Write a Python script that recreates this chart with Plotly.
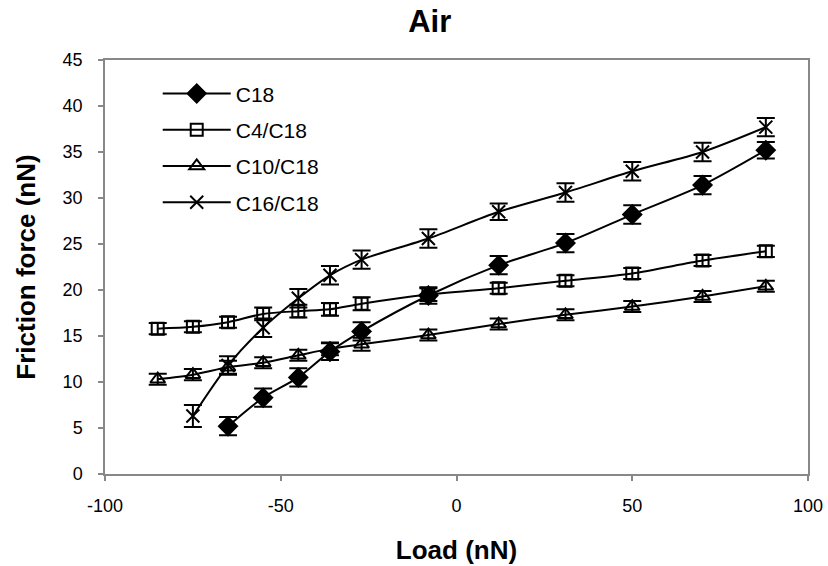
import plotly.graph_objects as go

# Data
load_c18 = [-65, -55, -45, -36, -27, -8, 12, 31, 50, 70, 88]
fric_c18 = [5.2, 8.3, 10.5, 13.3, 15.5, 19.4, 22.7, 25.1, 28.2, 31.4, 35.2]
err_c18 = [1.0, 1.0, 1.0, 0.9, 1.0, 0.9, 1.0, 1.0, 1.0, 1.0, 0.9]

load_c4 = [-85, -75, -65, -55, -45, -36, -27, -8, 12, 31, 50, 70, 88]
fric_c4 = [15.8, 16.0, 16.5, 17.4, 17.7, 17.9, 18.5, 19.5, 20.2, 21.0, 21.8, 23.2, 24.2]
err_c4 = [0.6, 0.6, 0.6, 0.7, 0.7, 0.7, 0.7, 0.7, 0.6, 0.6, 0.6, 0.6, 0.6]

load_c10 = [-85, -75, -65, -55, -45, -36, -27, -8, 12, 31, 50, 70, 88]
fric_c10 = [10.3, 10.8, 11.6, 12.1, 12.9, 13.6, 14.1, 15.1, 16.3, 17.3, 18.2, 19.3, 20.4]
err_c10 = [0.6, 0.6, 0.7, 0.6, 0.6, 0.7, 0.7, 0.6, 0.6, 0.6, 0.6, 0.6, 0.6]

load_c16 = [-75, -65, -55, -45, -36, -27, -8, 12, 31, 50, 70, 88]
fric_c16 = [6.3, 11.8, 15.9, 19.1, 21.6, 23.3, 25.6, 28.5, 30.6, 32.9, 35.0, 37.7]
err_c16 = [1.2, 1.0, 1.0, 1.0, 1.0, 1.0, 1.0, 0.9, 1.0, 1.0, 1.0, 1.0]

x_tickvals = [-100, -50, 0, 50, 100]
x_ticktext = ["-100", "-50", "0", "50", "100"]
y_tickvals = [0, 5, 10, 15, 20, 25, 30, 35, 40, 45]

series = [
    ("C18", load_c18, fric_c18, err_c18, "diamond", 14),
    ("C4/C18", load_c4, fric_c4, err_c4, "square-open", 12),
    ("C10/C18", load_c10, fric_c10, err_c10, "triangle-up-open", 13),
    ("C16/C18", load_c16, fric_c16, err_c16, "x-thin-open", 13),
]

FONT = "Liberation Sans, Arial"

fig = go.Figure()
for i, (name, xs, ys, es, sym, sz) in enumerate(series):
    fig.add_trace(go.Scatter(
        x=xs, y=ys, name=name, mode="lines+markers",
        legendgroup=f"g{i}",
        line=dict(color="black", width=2, shape="spline", smoothing=0.8),
        marker=dict(symbol=sym, size=sz, color="black",
                    line=dict(color="black", width=2)),
        error_y=dict(type="data", array=es, visible=True,
                     color="black", thickness=2, width=9),
    ))

axis_common = dict(
    showline=True, linecolor="#888888", linewidth=1.5, mirror=True,
    ticks="outside", tickcolor="#888888", ticklen=5, tickwidth=1.5,
    showgrid=False, zeroline=False,
    tickfont=dict(family=FONT, size=18, color="black"),
)

fig.update_layout(
    width=828, height=566,
    margin=dict(l=105, r=20, t=60, b=92, autoexpand=False),
    paper_bgcolor="white", plot_bgcolor="white",
    title=dict(text="<b>Air</b>", x=0.519, xanchor="center", y=0.982, yanchor="top",
               font=dict(family=FONT, size=31, color="black")),
    xaxis=dict(range=[-100, 100], tickvals=x_tickvals, ticktext=x_ticktext,
               ticklabelstandoff=10,
               title=dict(text="<b>Load (nN)</b>", standoff=25,
                          font=dict(family=FONT, size=26, color="black")),
               **axis_common),
    yaxis=dict(range=[0, 45], tickvals=y_tickvals,
               ticklabelstandoff=12,
               title=dict(text="<b>Friction force (nN)</b>", standoff=20,
                          font=dict(family=FONT, size=26, color="black")),
               **axis_common),
    legend=dict(x=0.075, y=0.968, xanchor="left", yanchor="top",
                traceorder="grouped", tracegroupgap=6,
                bgcolor="rgba(0,0,0,0)", itemwidth=68,
                font=dict(family=FONT, size=21, color="black")),
    showlegend=True,
)

fig.write_html("out.html")
